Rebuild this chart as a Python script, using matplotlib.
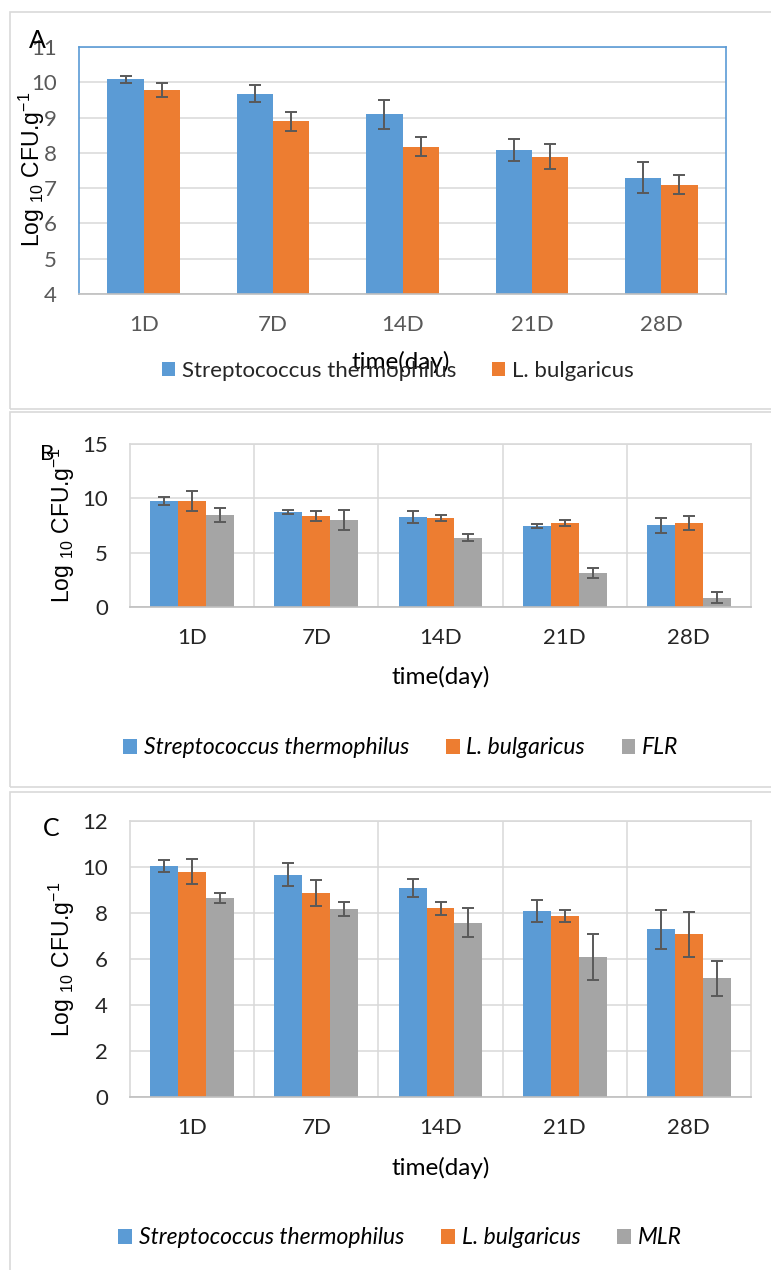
import matplotlib
matplotlib.use("Agg")
import matplotlib.pyplot as plt
import numpy as np
from matplotlib.patches import Rectangle, Patch

# ---------------- data ----------------
days = ["1D", "7D", "14D", "21D", "28D"]

# Panel A
a_strep = [10.08, 9.68, 9.09, 8.08, 7.29]
a_strep_err = [0.10, 0.23, 0.40, 0.31, 0.44]
a_bulg = [9.78, 8.89, 8.18, 7.89, 7.09]
a_bulg_err = [0.20, 0.27, 0.27, 0.36, 0.27]

# Panel B
b_strep = [9.79, 8.77, 8.28, 7.48, 7.51]
b_strep_err = [0.37, 0.18, 0.55, 0.20, 0.72]
b_bulg = [9.79, 8.34, 8.19, 7.73, 7.73]
b_bulg_err = [0.92, 0.45, 0.28, 0.28, 0.64]
b_flr = [8.47, 7.98, 6.38, 3.16, 0.86]
b_flr_err = [0.61, 0.93, 0.32, 0.45, 0.52]

# Panel C
c_strep = [10.06, 9.67, 9.08, 8.07, 7.29]
c_strep_err = [0.26, 0.51, 0.40, 0.48, 0.86]
c_bulg = [9.79, 8.88, 8.20, 7.87, 7.07]
c_bulg_err = [0.54, 0.57, 0.28, 0.27, 0.98]
c_mlr = [8.67, 8.17, 7.58, 6.07, 5.16]
c_mlr_err = [0.22, 0.29, 0.63, 1.00, 0.76]

names_A = ["Streptococcus thermophilus", "L. bulgaricus"]
names_B = ["Streptococcus thermophilus", "L. bulgaricus", "FLR"]
names_C = ["Streptococcus thermophilus", "L. bulgaricus", "MLR"]

BLUE = "#5B9BD5"
ORANGE = "#ED7D31"
GRAY = "#A5A5A5"
ERR = "#595959"
GRID = "#D9D9D9"

W, H = 771, 1270
fig = plt.figure(figsize=(W / 100, H / 100), dpi=100)

FONT = "Lato"
YFONT = "Liberation Sans"
plt.rcParams["mathtext.default"] = "regular"


def fx(px):
    return px / W


def fy(py):
    return 1 - py / H


def make_axes(x0, y0, x1, y1):
    return fig.add_axes([fx(x0), fy(y1), fx(x1) - fx(x0), (y1 - y0) / H])


# outer frames
for (x0, y0, y1) in [(10, 12, 409), (10, 412, 787), (10, 792, 1290)]:
    fig.patches.append(Rectangle((fx(x0), fy(y1)), fx(800) - fx(x0), (y1 - y0) / H,
                                 transform=fig.transFigure, fill=False,
                                 edgecolor=GRID, linewidth=1.2, zorder=0))


def draw_panel(ax, series, errs, colors, width, ylim, yticks, vgrid, spine_col, tick_col):
    n = len(series)
    x = np.arange(len(days))
    for i, (vals, e, c) in enumerate(zip(series, errs, colors)):
        off = (i - (n - 1) / 2) * width
        ax.bar(x + off, vals, width, color=c, zorder=2, edgecolor="none")
        ax.errorbar(x + off, vals, yerr=e, fmt="none", ecolor=ERR, elinewidth=1.4,
                    capsize=4, capthick=1.4, zorder=3)
    ax.set_xlim(-0.5, len(days) - 0.5)
    ax.set_ylim(*ylim)
    ax.set_yticks(yticks)
    ax.set_xticks(x)
    ax.set_xticklabels(days)
    ax.grid(axis="y", color=GRID, linewidth=1.1, zorder=0)
    if vgrid:
        ax.set_xticks(np.arange(0.5, len(days) - 0.5, 1), minor=True)
        ax.grid(axis="x", which="minor", color=GRID, linewidth=1.1, zorder=0)
        ax.tick_params(axis="x", which="minor", length=0)
    ax.set_axisbelow(True)
    for s in ax.spines.values():
        s.set_color(spine_col)
        s.set_linewidth(1.2)
    ax.spines["bottom"].set_color("#BFBFBF")
    ax.tick_params(axis="both", which="major", length=0, labelsize=16,
                   labelcolor=tick_col)
    ax.tick_params(axis="y", pad=16)
    ax.tick_params(axis="x", pad=15)
    for lab in ax.get_xticklabels() + ax.get_yticklabels():
        lab.set_fontfamily(FONT)


# Panel A
axA = make_axes(79, 47, 726, 294)
draw_panel(axA, [a_strep, a_bulg], [a_strep_err, a_bulg_err], [BLUE, ORANGE], 0.28,
           (4, 11), range(4, 12), False, BLUE, "#595959")

# Panel B
axB = make_axes(130, 444, 751, 607)
draw_panel(axB, [b_strep, b_bulg, b_flr], [b_strep_err, b_bulg_err, b_flr_err],
           [BLUE, ORANGE, GRAY], 0.225, (0, 15), range(0, 16, 5), True, GRID, "#262626")

# Panel C
axC = make_axes(130, 821, 751, 1097)
draw_panel(axC, [c_strep, c_bulg, c_mlr], [c_strep_err, c_bulg_err, c_mlr_err],
           [BLUE, ORANGE, GRAY], 0.225, (0, 12), range(0, 13, 2), True, GRID, "#262626")

ylab = r"Log $_{10}$ CFU.g$^{-1}$"
for (xp, yp) in [(32, 169), (62, 525), (62, 959)]:
    fig.text(fx(xp), fy(yp), ylab, rotation=90, ha="center", va="center",
             fontsize=16.5, family=YFONT, color="black")

# panel letters
for (lab, xp, yp, fs) in [("A", 37, 40, 18), ("B", 47, 454, 16), ("C", 51, 828, 18)]:
    fig.text(fx(xp), fy(yp), lab, ha="center", va="center", fontsize=fs,
             family=FONT, color="black")

# x labels
for (xp, yp) in [(401, 362), (441, 677), (441, 1168)]:
    fig.text(fx(xp), fy(yp), "time(day)", ha="center", va="center", fontsize=17.5,
             family=FONT, color="black")

# legends
def add_legend(names, colors, cx, cy, italic, tcolor, size):
    handles = [Patch(facecolor=c, edgecolor="none", label=nm) for nm, c in zip(names, colors)]
    leg = fig.legend(handles=handles, loc="center", bbox_to_anchor=(fx(cx), fy(cy)),
                     ncol=len(names), frameon=False, handlelength=0.6, handleheight=0.6,
                     handletextpad=0.3, columnspacing=1.6, borderaxespad=0,
                     prop={"family": FONT, "size": size,
                           "style": "italic" if italic else "normal"})
    for t in leg.get_texts():
        t.set_color(tcolor)
    return leg

add_legend(names_A, [BLUE, ORANGE], 398, 371, False, "#262626", 16)
add_legend(names_B, [BLUE, ORANGE, GRAY], 401, 748, True, "black", 16.5)
add_legend(names_C, [BLUE, ORANGE, GRAY], 400, 1238, True, "black", 16.5)

fig.savefig("out.png", dpi=100)
